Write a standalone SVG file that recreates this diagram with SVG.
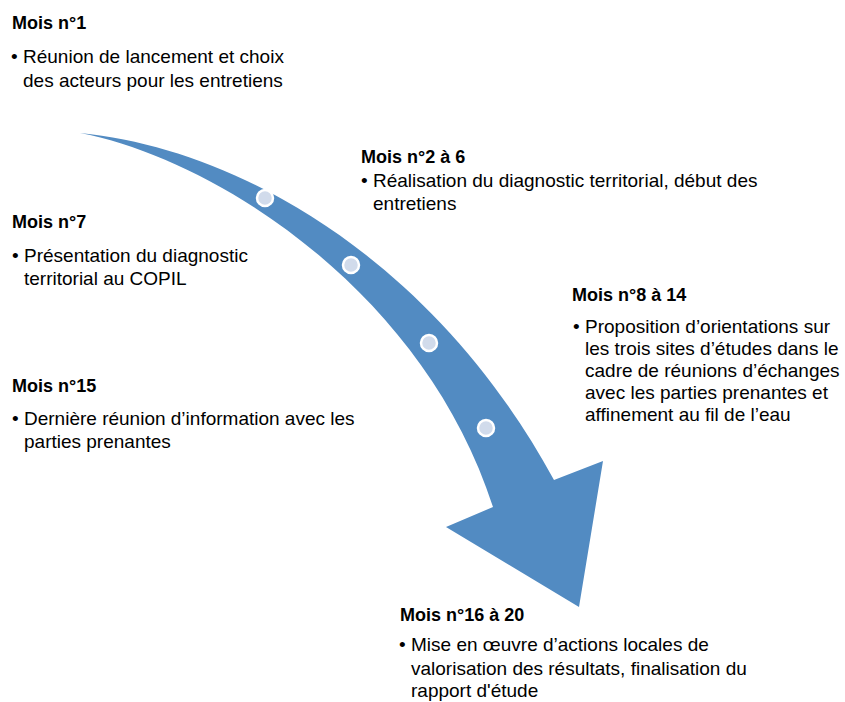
<svg xmlns="http://www.w3.org/2000/svg" width="845" height="702" viewBox="0 0 845 702">
<style>
.t{font-family:"Liberation Sans",Arial,sans-serif;font-weight:bold;font-size:18px;fill:#000}
.b{font-family:"Liberation Sans",Arial,sans-serif;font-size:19px;fill:#000}
.u{font-family:"Liberation Sans",Arial,sans-serif;font-size:19px;fill:#000}
.dot{fill:#D1DBEB;stroke:#fff;stroke-width:2.5}
</style>
<rect width="845" height="702" fill="#fff"/>
<g id="arrow">
<path d="M80,133 C250,150 440,270 554,480 L603,461 L579,607 L446,527 L493,507 C425,295 220,160 80,133 Z" fill="#528BC2"/>
<circle class="dot" cx="265" cy="198" r="8"/>
<circle class="dot" cx="351" cy="265" r="8"/>
<circle class="dot" cx="429" cy="343" r="8"/>
<circle class="dot" cx="486" cy="428" r="8"/>
</g>
<g id="m1">
<text class="t" x="12" y="29">Mois n°1</text>
<text class="u" x="11" y="63">•</text>
<text class="b" x="23" y="63">Réunion de lancement et choix</text>
<text class="b" x="23" y="87">des acteurs pour les entretiens</text>
</g>
<g id="m2">
<text class="t" x="361" y="163">Mois n°2 à 6</text>
<text class="u" x="361" y="187">•</text>
<text class="b" x="373" y="187">Réalisation du diagnostic territorial, début des</text>
<text class="b" x="373" y="210">entretiens</text>
</g>
<g id="m7">
<text class="t" x="12" y="228">Mois n°7</text>
<text class="u" x="12" y="262">•</text>
<text class="b" x="24" y="262">Présentation du diagnostic</text>
<text class="b" x="24" y="285">territorial au COPIL</text>
</g>
<g id="m8">
<text class="t" x="572" y="301">Mois n°8 à 14</text>
<text class="u" x="573" y="333">•</text>
<text class="b" x="585" y="333">Proposition d’orientations sur</text>
<text class="b" x="585" y="355">les trois sites d’études dans le</text>
<text class="b" x="585" y="377">cadre de réunions d’échanges</text>
<text class="b" x="585" y="399">avec les parties prenantes et</text>
<text class="b" x="585" y="421">affinement au fil de l’eau</text>
</g>
<g id="m15">
<text class="t" x="12" y="392">Mois n°15</text>
<text class="u" x="12" y="425">•</text>
<text class="b" x="24" y="425">Dernière réunion d’information avec les</text>
<text class="b" x="24" y="448">parties prenantes</text>
</g>
<g id="m16">
<text class="t" x="400" y="621">Mois n°16 à 20</text>
<text class="u" x="399" y="651">•</text>
<text class="b" x="411" y="651">Mise en œuvre d’actions locales de</text>
<text class="b" x="411" y="675">valorisation des résultats, finalisation du</text>
<text class="b" x="411" y="697">rapport d'étude</text>
</g>
<g id="connectors"></g>
</svg>
